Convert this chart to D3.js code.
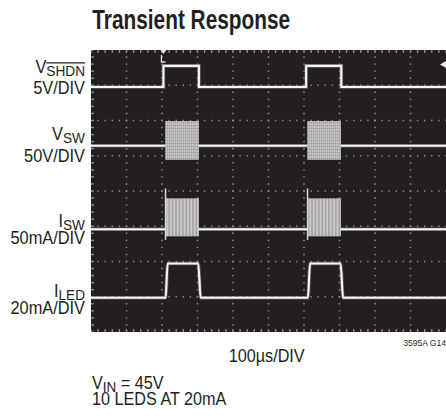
<!DOCTYPE html>
<html><head><meta charset="utf-8">
<script src="https://cdn.jsdelivr.net/npm/d3@7"></script>
<style>html,body{margin:0;padding:0;background:#fff;} svg{display:block;}</style>
</head><body>
<svg id="chart" width="446" height="416"></svg>
<script>
// ---------------- data ----------------
const timeDomainUs = [0, 1000];          // 10 div x 100µs/DIV
const divDomain = [-4, 4];               // 8 vertical divisions
const labelMain = ["V", "V", "I", "I"];
const labelSub = ["SHDN", "SW", "SW", "LED"];
const labelScale = ["5V/DIV", "50V/DIV", "50mA/DIV", "20mA/DIV"];
const unitsPerDiv = [5, 50, 50, 20];     // V, V, mA, mA per division
const groundDiv = [2.95, 0.385, -1.087, -3.03];

// V_SHDN (V)
const shdnTime = [0, 204, 204, 304, 304, 606, 606, 705, 705, 1000];
const shdnVolt = [0, 0, 3, 3, 0, 0, 3, 3, 0, 0];
// V_SW (V): idle level and switching bursts
const vswTime = [0, 1000];
const vswVolt = [45, 45];
const vswBurstStart = [209, 609];
const vswBurstEnd = [304, 704];
const vswBurstLow = [25, 25];
const vswBurstHigh = [80, 80];
// I_SW (mA): idle level, bursts, turn-on spikes
const iswTime = [0, 1000];
const iswMA = [0, 0];
const iswBurstStart = [209, 609];
const iswBurstEnd = [304, 704];
const iswBurstLow = [-10, -10];
const iswBurstHigh = [44, 44];
const iswSpikeTime = [210, 610];
const iswSpikeLow = [-15, -15];
const iswSpikeHigh = [58, 58];
// I_LED (mA)
const iledTime = [0, 210, 216, 302, 309, 611, 617, 703, 710, 1000];
const iledMA = [0, 0, 19.5, 19.5, 0, 0, 19.5, 19.5, 0, 0];

const titleText = "Transient Response";
const xScaleText = "100µs/DIV";
const figId = "3595A G14";
const noteMain = "V", noteSub = "IN", noteRest = " = 45V";
const note2 = "10 LEDS AT 20mA";

// ---------------- drawing ----------------
const FONT = "'Liberation Sans', Arial, sans-serif";
const svg = d3.select("#chart");
const L = 91, R = 446, T = 50, B = 332;
const x = d3.scaleLinear().domain(timeDomainUs).range([L, R]);
const yDiv = d3.scaleLinear().domain(divDomain).range([B, T]);
const yCh = (c) => (v) => yDiv(groundDiv[c] + v / unitsPerDiv[c]);

// defs: textures for switching bursts
const defs = svg.append("defs");
const pv = defs.append("pattern").attr("id", "vswTex").attr("patternUnits", "userSpaceOnUse")
  .attr("width", 2).attr("height", 3);
pv.append("rect").attr("width", 2).attr("height", 3).attr("fill", "#b3b3b3");
pv.append("rect").attr("width", 1).attr("height", 2).attr("fill", "#c6c6c6");
pv.append("rect").attr("x", 1).attr("y", 2).attr("width", 1).attr("height", 1).attr("fill", "#9d9d9d");
const pi = defs.append("pattern").attr("id", "iswTex").attr("patternUnits", "userSpaceOnUse")
  .attr("width", 3.4).attr("height", 4);
pi.append("rect").attr("width", 3.4).attr("height", 4).attr("fill", "#a4a4a4");
pi.append("rect").attr("width", 1.8).attr("height", 4).attr("fill", "#cacaca");
defs.append("clipPath").attr("id", "scopeClip").append("rect")
  .attr("x", L).attr("y", T).attr("width", R - L).attr("height", B - T);

// scope background
svg.append("rect").attr("x", L).attr("y", T).attr("width", R - L).attr("height", B - T)
  .attr("fill", "#231f20");

const g = svg.append("g").attr("clip-path", "url(#scopeClip)");
const gridCol = "#8d8b8b";
const xMajor = x.ticks(10);
const yMajor = yDiv.ticks(8);
const xMinor = d3.range(timeDomainUs[0], timeDomainUs[1] + 0.001, 20);
const yMinor = d3.range(divDomain[0], divDomain[1] + 0.001, 0.2);
const pxDivY = (B - T) / 8 / 5, pxDivX = (R - L) / 10 / 5;

// dotted major grid
g.selectAll("line.vg").data(xMajor.filter(t => t > timeDomainUs[0] && t < timeDomainUs[1]))
  .join("line").attr("x1", d => x(d)).attr("x2", d => x(d)).attr("y1", T).attr("y2", B)
  .attr("stroke", gridCol).attr("stroke-width", 1.6)
  .attr("stroke-dasharray", `1.4 ${pxDivY - 1.4}`).attr("stroke-dashoffset", 0.7);
g.selectAll("line.hg").data(yMajor.filter(d => d > divDomain[0] && d < divDomain[1]))
  .join("line").attr("y1", d => yDiv(d)).attr("y2", d => yDiv(d)).attr("x1", L).attr("x2", R)
  .attr("stroke", gridCol).attr("stroke-width", 1.6)
  .attr("stroke-dasharray", `1.4 ${pxDivX - 1.4}`).attr("stroke-dashoffset", 0.7);
// border minor ticks
g.selectAll("line.tt").data(xMinor).join("line")
  .attr("x1", d => x(d)).attr("x2", d => x(d)).attr("y1", T).attr("y2", T + 3)
  .attr("stroke", gridCol).attr("stroke-width", 1.4);
g.selectAll("line.bt").data(xMinor).join("line")
  .attr("x1", d => x(d)).attr("x2", d => x(d)).attr("y1", B - 3).attr("y2", B)
  .attr("stroke", gridCol).attr("stroke-width", 1.4);
g.selectAll("line.lt").data(yMinor).join("line")
  .attr("y1", d => yDiv(d)).attr("y2", d => yDiv(d)).attr("x1", L).attr("x2", L + 3)
  .attr("stroke", gridCol).attr("stroke-width", 1.4);

// traces
function trace(times, vals, c, curve) {
  const line = d3.line().x((d, i) => x(times[i])).y(d => yCh(c)(d)).curve(curve || d3.curveLinear);
  g.append("path").attr("d", line(vals)).attr("fill", "none")
    .attr("stroke", "#8f8f8f").attr("stroke-width", 3.6).attr("stroke-opacity", 0.55);
  g.append("path").attr("d", line(vals)).attr("fill", "none")
    .attr("stroke", "#f4f4f4").attr("stroke-width", 2.1);
}
trace(shdnTime, shdnVolt, 0);
trace(vswTime, vswVolt, 1);
trace(iswTime, iswMA, 2);
trace(iledTime, iledMA, 3, d3.curveMonotoneX);

// bursts
g.selectAll("rect.vsw").data(vswBurstStart).join("rect")
  .attr("x", (d, i) => x(d)).attr("width", (d, i) => x(vswBurstEnd[i]) - x(d))
  .attr("y", (d, i) => yCh(1)(vswBurstHigh[i]))
  .attr("height", (d, i) => yCh(1)(vswBurstLow[i]) - yCh(1)(vswBurstHigh[i]))
  .attr("fill", "url(#vswTex)");
g.selectAll("rect.isw").data(iswBurstStart).join("rect")
  .attr("x", (d, i) => x(d)).attr("width", (d, i) => x(iswBurstEnd[i]) - x(d))
  .attr("y", (d, i) => yCh(2)(iswBurstHigh[i]))
  .attr("height", (d, i) => yCh(2)(iswBurstLow[i]) - yCh(2)(iswBurstHigh[i]))
  .attr("fill", "url(#iswTex)");
g.selectAll("line.spk").data(iswSpikeTime).join("line")
  .attr("x1", d => x(d)).attr("x2", d => x(d))
  .attr("y1", (d, i) => yCh(2)(iswSpikeHigh[i])).attr("y2", (d, i) => yCh(2)(iswSpikeLow[i]))
  .attr("stroke", "#d8d8d8").attr("stroke-width", 1.5);

// trigger markers
const trigX = x(shdnTime[1]);
g.append("path").attr("d", `M${trigX - 3},${T} L${trigX + 3},${T} L${trigX},${T + 4} Z`).attr("fill", "#e8e8e8");
g.append("path").attr("d", `M${trigX - 2},${T + 5} L${trigX - 2},${T + 12} L${trigX + 2},${T + 12}`)
  .attr("fill", "none").attr("stroke", "#e0e0e0").attr("stroke-width", 1.3);
const trigY = yCh(0)(shdnVolt[2] * 0.5 + 1.7);
g.append("path").attr("d", `M${R - 6},${trigY} L${R},${trigY - 3.5} L${R},${trigY + 3.5} Z`).attr("fill", "#e8e8e8");

// ---------------- text ----------------
function txt(xp, yp, sx, anchor) {
  return svg.append("g").attr("transform", `translate(${xp},${yp}) scale(${sx},1)`)
    .append("text").attr("x", 0).attr("y", 0).attr("text-anchor", anchor)
    .attr("font-family", FONT).attr("fill", "#231f20");
}
txt(92.3, 29.3, 0.744, "start").attr("font-size", 28).attr("font-weight", "bold").text(titleText);

const mainBase = [73, 140, 227, 297];
const scaleBase = [93.5, 161.5, 243.5, 313.5];
labelMain.forEach((m, i) => {
  const t = txt(85, mainBase[i], 0.91, "end").attr("font-size", 18);
  t.append("tspan").text(m);
  t.append("tspan").attr("font-size", 15).attr("dy", 3).text(labelSub[i]);
  if (i === 0) {
    const n = labelSub[i].length;
    const a = t.node().getExtentOfChar(1), b = t.node().getExtentOfChar(n);
    t.node().parentNode && d3.select(t.node().parentNode).append("line")
      .attr("x1", a.x).attr("x2", b.x + b.width).attr("y1", a.y + 0.5).attr("y2", a.y + 0.5)
      .attr("stroke", "#231f20").attr("stroke-width", 1.2);
  }
  txt(85, scaleBase[i], 0.91, "end").attr("font-size", 18).text(labelScale[i]);
});

txt(266.7, 361.7, 0.9, "middle").attr("font-size", 18).text(xScaleText);
txt(446, 345.5, 0.9, "end").attr("font-size", 9.5).text(figId);
const n1 = txt(92, 389.3, 0.9, "start").attr("font-size", 18);
n1.append("tspan").text(noteMain);
n1.append("tspan").attr("font-size", 15).attr("dy", 2.5).text(noteSub);
n1.append("tspan").attr("dy", -2.5).text(noteRest);
txt(92, 405, 0.9, "start").attr("font-size", 18).text(note2);
</script>
</body></html>
